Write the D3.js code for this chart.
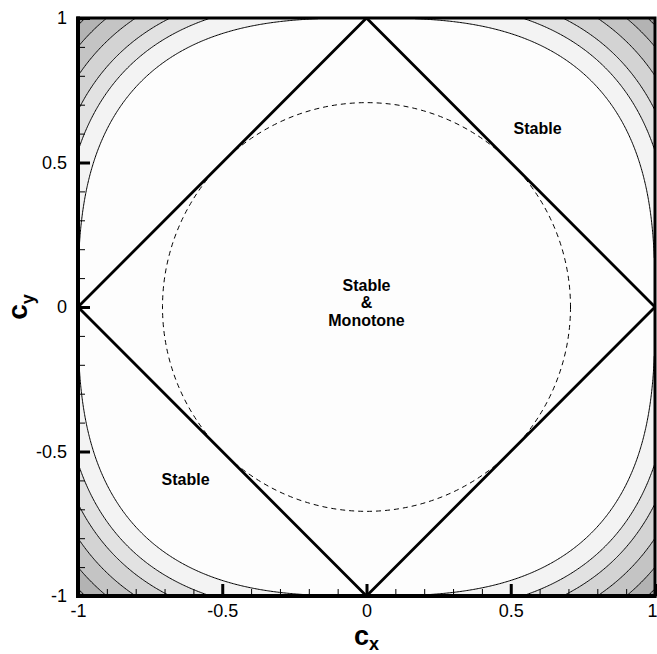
<!DOCTYPE html>
<html>
<head>
<meta charset="utf-8">
<script src="https://cdn.jsdelivr.net/npm/d3@7"></script>
<style>
  html, body { margin: 0; padding: 0; background: #ffffff; }
  svg { display: block; }
  text { font-family: "Liberation Sans", Arial, sans-serif; }
</style>
</head>
<body>
<script>
// Courant numbers cx, cy on both axes
const xDomain = [-1, 1];
const yDomain = [-1, 1];
const majorTicks = [-1, -0.5, 0, 0.5, 1];
const majorTickLabels = ["-1", "-0.5", "0", "0.5", "1"];
const minorTicks = [-0.9, -0.8, -0.7, -0.6, -0.4, -0.3, -0.2, -0.1, 0.1, 0.2, 0.3, 0.4, 0.6, 0.7, 0.8, 0.9];

// contour levels of |cx|^p + |cy|^p (outermost = stability limit)
const fieldExponent = 2.8;
const contourLevels = [1.0, 1.178, 1.34, 1.535, 1.745, 1.931];
const bandFills = ["#f3f3f3", "#e2e2e2", "#d3d3d3", "#c4c4c4", "#b3b3b3", "#9c9c9c"];

// monotonicity limit |cx| + |cy| = 1
const diamondCx = [0, 1, 0, -1];
const diamondCy = [1, 0, -1, 0];
// dashed circle cx^2 + cy^2 = 1/2
const circleRadius = Math.SQRT1_2;

const labelText = ["Stable", "Stable", "Stable", "&", "Monotone"];
const labelCx = [0.593, -0.627, 0, 0, 0];
const labelCy = [0.619, -0.595, 0.076, 0.016, -0.048];

const W = 657, H = 654;
const M = { left: 78, right: 655, top: 18, bottom: 596 };

const x = d3.scaleLinear().domain(xDomain).range([M.left, M.right]);
const y = d3.scaleLinear().domain(yDomain).range([M.bottom, M.top]);

const svg = d3.select("body").append("svg")
  .attr("width", W).attr("height", H);

svg.append("defs").append("clipPath").attr("id", "plotClip")
  .append("rect").attr("x", M.left).attr("y", M.top)
  .attr("width", M.right - M.left).attr("height", M.bottom - M.top);

const plot = svg.append("g").attr("clip-path", "url(#plotClip)");

plot.append("rect").attr("x", M.left).attr("y", M.top)
  .attr("width", M.right - M.left).attr("height", M.bottom - M.top)
  .attr("fill", "#fdfdfd");

// sampled field on a regular grid, values at cell centres
const n = 400;
const field = new Array(n * n);
for (let j = 0; j < n; j++) {
  const cy = yDomain[1] - (j + 0.5) * (yDomain[1] - yDomain[0]) / n;
  for (let i = 0; i < n; i++) {
    const cx = xDomain[0] + (i + 0.5) * (xDomain[1] - xDomain[0]) / n;
    field[j * n + i] = Math.pow(Math.abs(cx), fieldExponent) + Math.pow(Math.abs(cy), fieldExponent);
  }
}

const contours = d3.contours().size([n, n]).thresholds(contourLevels)(field);

const gx = d3.scaleLinear().domain([0, n]).range([M.left, M.right]);
const gy = d3.scaleLinear().domain([0, n]).range([M.top, M.bottom]);
const gridPath = d3.geoPath(d3.geoTransform({
  point: function (px, py) { this.stream.point(gx(px), gy(py)); }
}));

plot.selectAll("path.band")
  .data(contours)
  .join("path")
  .attr("class", "band")
  .attr("d", gridPath)
  .attr("fill", (d, i) => bandFills[i])
  .attr("stroke", "#000")
  .attr("stroke-width", 1);

// dashed circle
plot.append("ellipse")
  .attr("cx", x(0)).attr("cy", y(0))
  .attr("rx", x(circleRadius) - x(0))
  .attr("ry", y(0) - y(circleRadius))
  .attr("fill", "none")
  .attr("stroke", "#000")
  .attr("stroke-width", 1)
  .attr("stroke-dasharray", "5,4");

// diamond
const diamond = d3.line().x(d => x(d[0])).y(d => y(d[1]));
plot.append("path")
  .attr("d", diamond(d3.zip(diamondCx, diamondCy)) + "Z")
  .attr("fill", "none")
  .attr("stroke", "#000")
  .attr("stroke-width", 2.8)
  .attr("stroke-linejoin", "miter");

// region labels
svg.append("g").selectAll("text")
  .data(labelText)
  .join("text")
  .attr("x", (d, i) => x(labelCx[i]))
  .attr("y", (d, i) => y(labelCy[i]))
  .attr("dy", "0.35em")
  .attr("text-anchor", "middle")
  .attr("font-size", 16)
  .attr("font-weight", "bold")
  .text(d => d);

// axes: ticks pointing inward
const xMajor = d3.axisBottom(x).tickValues(majorTicks)
  .tickFormat((d, i) => majorTickLabels[i]).tickSizeInner(-12).tickSizeOuter(0).tickPadding(8);
const xMinor = d3.axisBottom(x).tickValues(minorTicks).tickFormat("").tickSizeInner(-7).tickSizeOuter(0);
const yMajor = d3.axisLeft(y).tickValues(majorTicks)
  .tickFormat((d, i) => majorTickLabels[i]).tickSizeInner(-12).tickSizeOuter(0).tickPadding(11);
const yMinor = d3.axisLeft(y).tickValues(minorTicks).tickFormat("").tickSizeInner(-7).tickSizeOuter(0);

function styleAxis(g, w) {
  g.select(".domain").remove();
  g.selectAll(".tick line").attr("stroke", "#000").attr("stroke-width", w);
  g.selectAll(".tick text").attr("fill", "#000").attr("font-size", 18)
    .attr("font-family", "'Liberation Sans', Arial, sans-serif");
}

svg.append("g").attr("transform", `translate(0,${M.bottom})`).call(xMinor).call(g => styleAxis(g, 1));
const xAxisG = svg.append("g").attr("transform", `translate(0,${M.bottom})`).call(xMajor).call(g => styleAxis(g, 3));
// keep the last label inside the page
xAxisG.selectAll(".tick text").filter(d => d === xDomain[1])
  .attr("text-anchor", "end").attr("x", 2);
svg.append("g").attr("transform", `translate(${M.left},0)`).call(yMinor).call(g => styleAxis(g, 1));
svg.append("g").attr("transform", `translate(${M.left},0)`).call(yMajor).call(g => styleAxis(g, 3));

// frame (left and bottom drawn heavier)
svg.append("rect")
  .attr("x", M.left).attr("y", M.top)
  .attr("width", M.right - M.left).attr("height", M.bottom - M.top)
  .attr("fill", "none").attr("stroke", "#000").attr("stroke-width", 3);
svg.append("path")
  .attr("d", `M${M.left},${M.top - 1.5}V${M.bottom}H${M.right + 1.5}`)
  .attr("fill", "none").attr("stroke", "#000").attr("stroke-width", 4);

// axis titles
const xt = svg.append("text")
  .attr("x", x(0)).attr("y", 645)
  .attr("text-anchor", "middle")
  .attr("font-weight", "bold");
xt.append("tspan").attr("font-size", 27).text("c");
xt.append("tspan").attr("font-size", 18).attr("dy", 5).text("x");

const yt = svg.append("text")
  .attr("transform", `translate(27,${y(0)}) rotate(-90)`)
  .attr("text-anchor", "middle")
  .attr("font-weight", "bold");
yt.append("tspan").attr("font-size", 28).text("c");
yt.append("tspan").attr("font-size", 18).attr("dy", 7).text("y");
</script>
</body>
</html>
